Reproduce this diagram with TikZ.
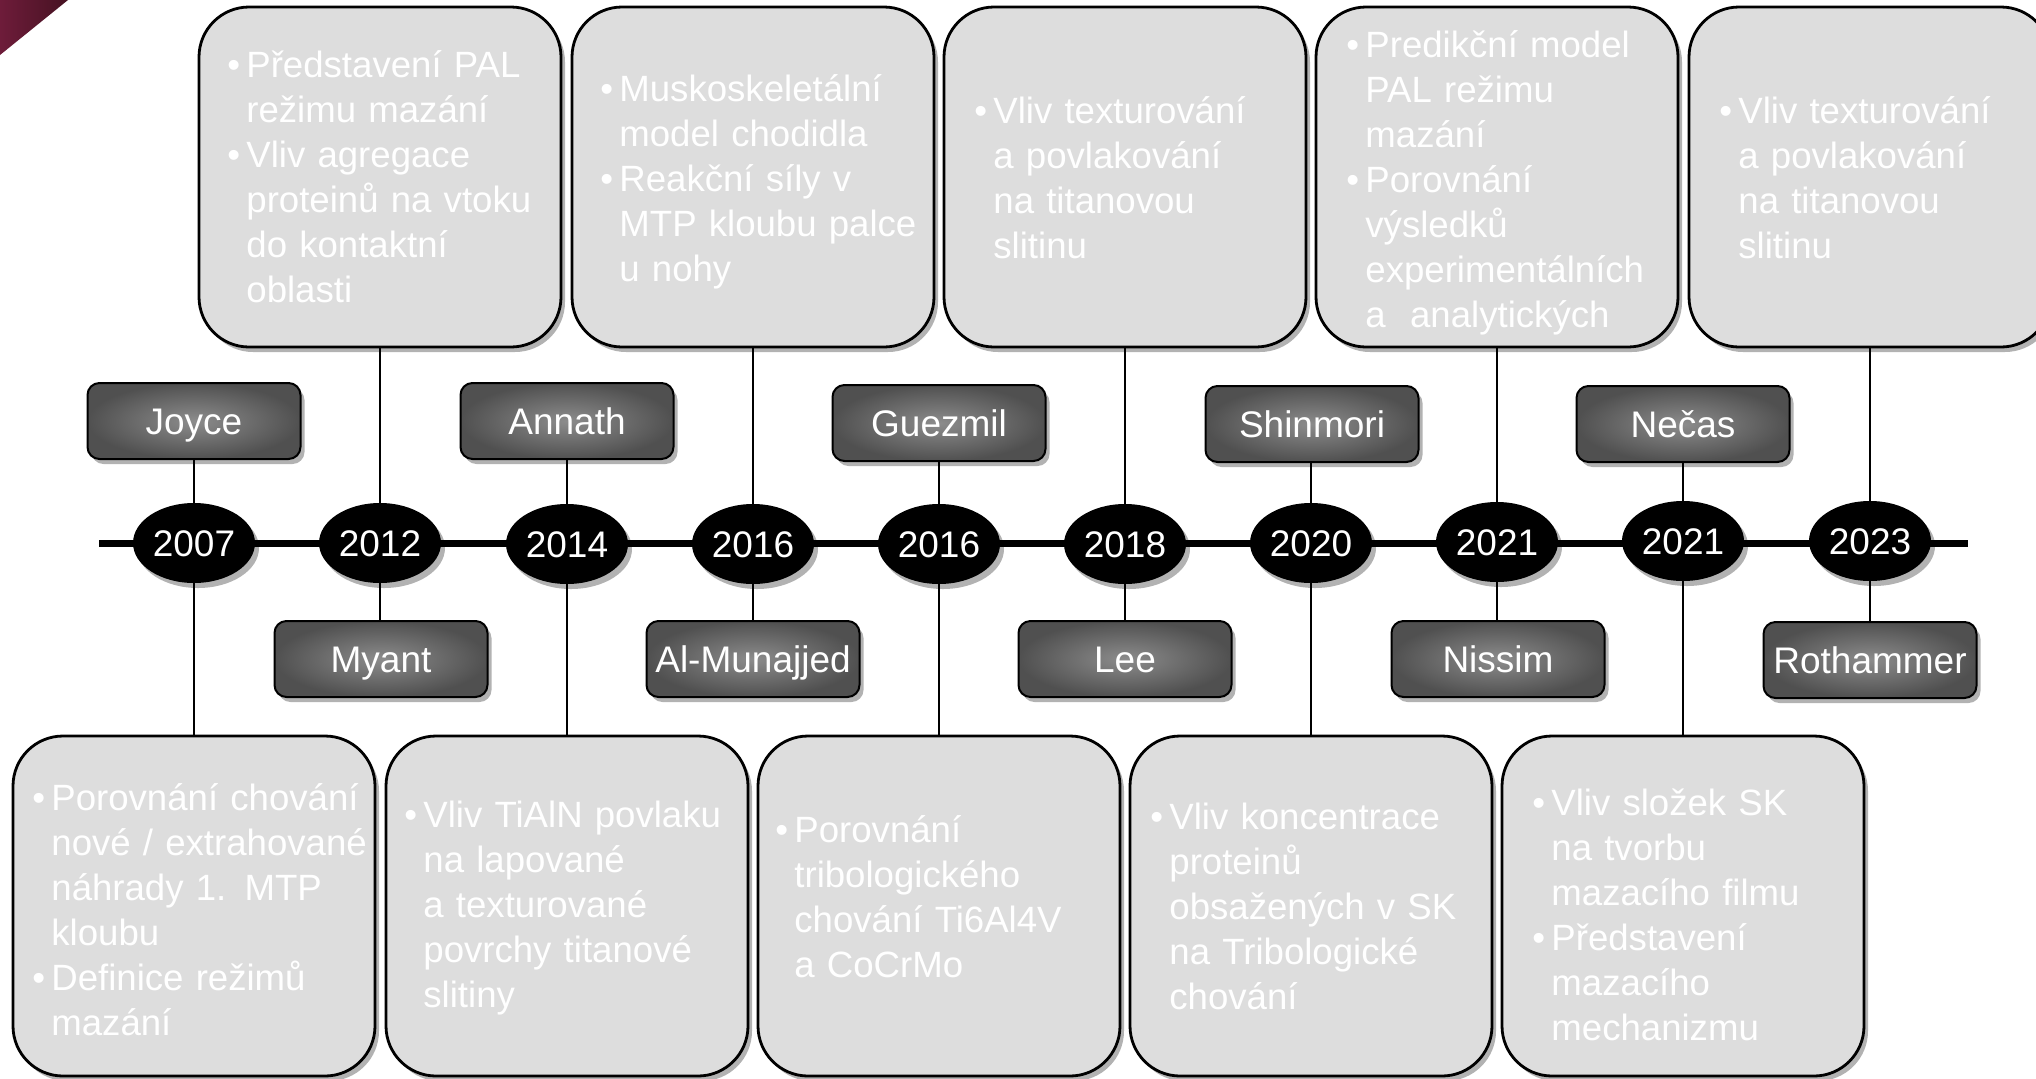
\documentclass[tikz,border=0pt]{standalone}
\usepackage{fontspec}
\setmainfont{Liberation Sans}
\usetikzlibrary{shapes.geometric,shadows,backgrounds}
\definecolor{boxgray}{HTML}{DDDDDD}
\definecolor{namein}{HTML}{8C8C8C}
\definecolor{nameout}{HTML}{505050}
\definecolor{maroonA}{HTML}{6E1C3A}
\definecolor{maroonB}{HTML}{461222}
\newcommand\bitem[1]{\par\noindent\hangindent=9.5pt\hangafter=1\makebox[9.5pt][l]{\textbullet}{\let\\\newline #1}\par}
\begin{document}
\begin{tikzpicture}[x=0.5pt,y=-0.5pt,
  shadowed/.style={drop shadow={opacity=0.3,shadow xshift=2pt,shadow yshift=-2.5pt,fill=black}},
  bigbox/.style={draw=black,line width=1.4pt,fill=boxgray,rounded corners=25pt,
    minimum width=181pt,minimum height=170pt,inner sep=0pt,shadowed},
  btext/.style={text=white,font=\fontsize{18.3}{22.5}\selectfont\raggedright,text width=175pt,
    inner sep=0pt,anchor=west},
  namebox/.style={draw=black,line width=1pt,rounded corners=6pt,inner color=namein,
    outer color=nameout,minimum width=106.5pt,minimum height=38pt,inner sep=0pt,
    text=white,font=\fontsize{18.5}{22}\selectfont,text height=17pt,text depth=3.8pt,shadowed},
  yearnode/.style={ellipse,fill=black,text=white,minimum width=61pt,minimum height=40pt,
    inner sep=0pt,font=\fontsize{18.5}{22}\selectfont,text height=17pt,text depth=3.8pt,shadowed},
  conn/.style={draw=black,line width=1pt},
  timeline/.style={draw=black,line width=3.5pt}
]
\useasboundingbox (0,0) rectangle (2036,1078);
\clip (0,0) rectangle (2036,1078);
% corner triangle
\shade[left color=maroonA,right color=maroonB] (0,0) -- (68,0) -- (0,55) -- cycle;

% timeline ends
\coordinate (tlL) at (99,543);
\coordinate (tlR) at (1968,543);

% years
\node[yearnode] (y1) at (194,543) {2007};
\node[yearnode] (y2) at (380,543) {2012};
\node[yearnode] (y3) at (567,544) {2014};
\node[yearnode] (y4) at (753,544) {2016};
\node[yearnode] (y5) at (939,544) {2016};
\node[yearnode] (y6) at (1125,544) {2018};
\node[yearnode] (y7) at (1311,543) {2020};
\node[yearnode] (y8) at (1497,542) {2021};
\node[yearnode] (y9) at (1683,541) {2021};
\node[yearnode] (y10) at (1870,541) {2023};

% name boxes
\node[namebox] (n1) at (194,421) {Joyce};
\node[namebox] (n2) at (381,659) {Myant};
\node[namebox] (n3) at (567,421) {Annath};
\node[namebox] (n4) at (753,659) {Al-Munajjed};
\node[namebox] (n5) at (939,423) {Guezmil};
\node[namebox] (n6) at (1125,659) {Lee};
\node[namebox] (n7) at (1312,424) {Shinmori};
\node[namebox] (n8) at (1498,659) {Nissim};
\node[namebox] (n9) at (1683,424) {Nečas};
\node[namebox] (n10) at (1870,660) {Rothammer};

% top big boxes
\node[bigbox] (T1) at (380,177) {};
\node[bigbox] (T2) at (753,177) {};
\node[bigbox] (T3) at (1125,177) {};
\node[bigbox] (T4) at (1497,177) {};
\node[bigbox] (T5) at (1870,177) {};
% bottom big boxes
\node[bigbox] (B1) at (194,906) {};
\node[bigbox] (B2) at (567,906) {};
\node[bigbox] (B3) at (939,906) {};
\node[bigbox] (B4) at (1311,906) {};
\node[bigbox] (B5) at (1683,906) {};

% texts
\node[btext] (T1t) at (227,168) {\bitem{Představení PAL\\režimu mazání}\bitem{Vliv agregace\\proteinů na vtoku\\do kontaktní\\oblasti}};
\node[btext] (T2t) at (600,173) {\bitem{Muskoskeletální\\model chodidla}\bitem{Reakční síly v\\MTP kloubu palce\\u nohy}};
\node[btext] (T3t) at (974,169) {\bitem{Vliv texturování\\a povlakování\\na titanovou\\slitinu}};
\node[btext] (T4t) at (1346,174) {\bitem{Predikční model\\PAL režimu\\mazání}\bitem{Porovnání\\výsledků\\experimentálních\\a\ \ analytických}};
\node[btext] (T5t) at (1719,169) {\bitem{Vliv texturování\\a povlakování\\na titanovou\\slitinu}};
\node[btext] (B1t) at (32,901) {\bitem{Porovnání chování\\nové / extrahované\\náhrady 1. MTP\\kloubu}\bitem{Definice režimů\\mazání}};
\node[btext] (B2t) at (404,899) {\bitem{Vliv TiAlN povlaku\\na lapované\\a texturované\\povrchy titanové\\slitiny}};
\node[btext] (B3t) at (775,888) {\bitem{Porovnání\\tribologického\\chování Ti6Al4V\\a CoCrMo}};
\node[btext] (B4t) at (1150,897) {\bitem{Vliv koncentrace\\proteinů\\obsažených v SK\\na Tribologické\\chování}};
\node[btext] (B5t) at (1532,906) {\bitem{Vliv složek SK\\na tvorbu\\mazacího filmu}\bitem{Představení\\mazacího\\mechanizmu}};

\begin{scope}[on background layer]
\draw[timeline] (tlL) -- (tlR);
\draw[conn] (n1.south) -- (n1.south |- B1.north);
\draw[conn] (T1.south) -- (T1.south |- n2.north);
\draw[conn] (n3.south) -- (n3.south |- B2.north);
\draw[conn] (T2.south) -- (T2.south |- n4.north);
\draw[conn] (n5.south) -- (n5.south |- B3.north);
\draw[conn] (T3.south) -- (T3.south |- n6.north);
\draw[conn] (n7.south -| y7) -- (y7 |- B4.north);
\draw[conn] (T4.south) -- (T4.south |- n8.north);
\draw[conn] (n9.south) -- (n9.south |- B5.north);
\draw[conn] (T5.south) -- (T5.south |- n10.north);
\end{scope}
\end{tikzpicture}
\end{document}
